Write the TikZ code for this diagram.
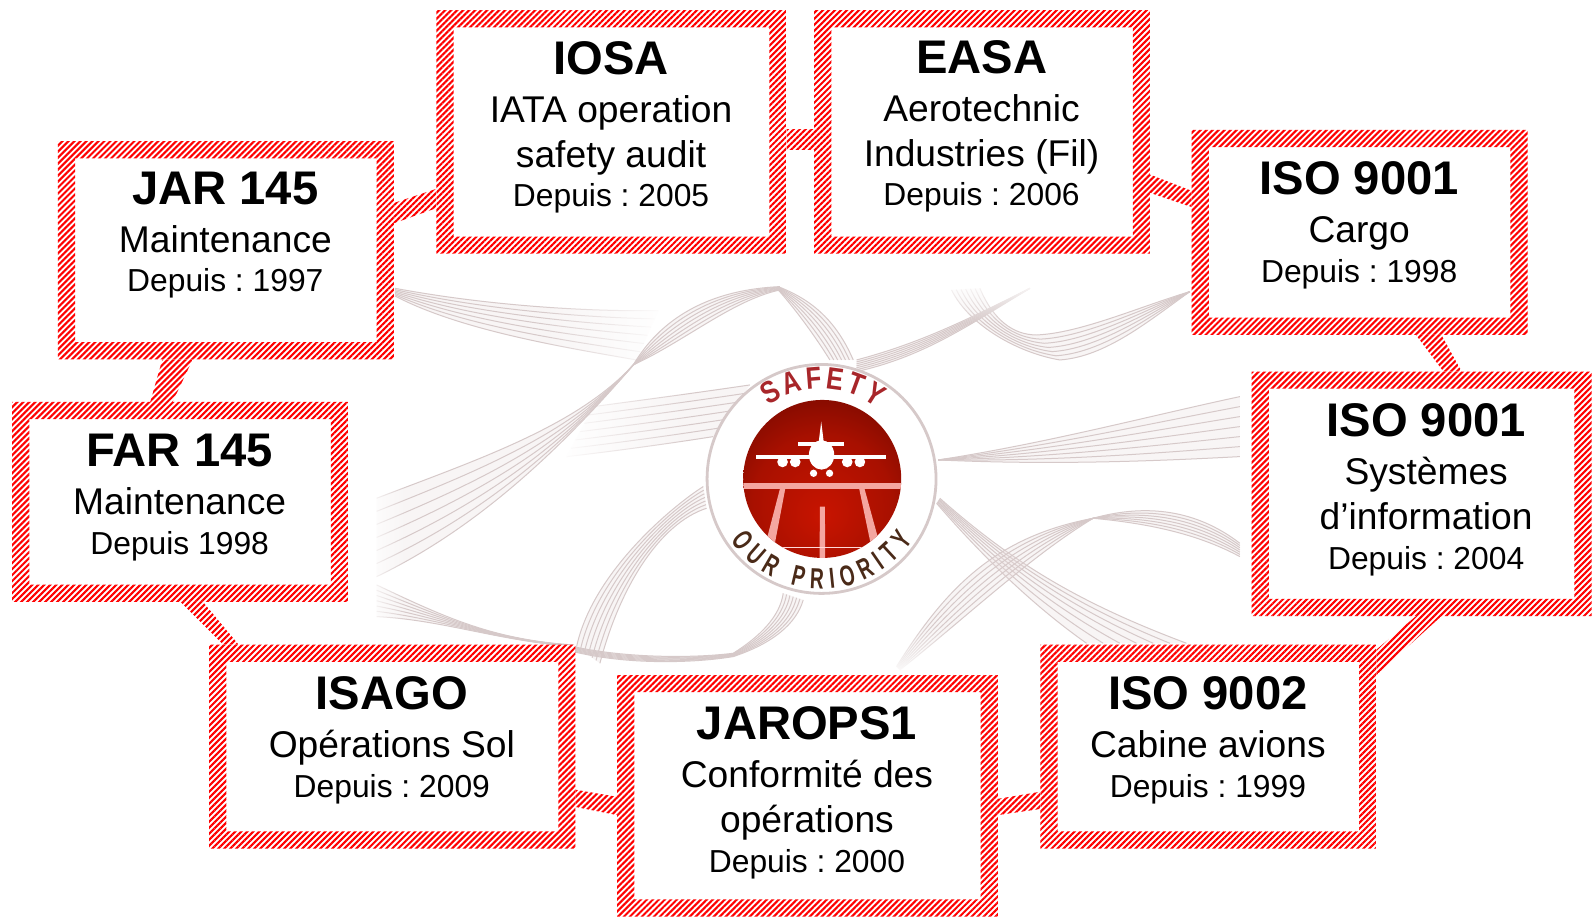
\documentclass[tikz,border=0pt]{standalone}
\usepackage{fontspec}
\setmainfont{Liberation Sans}
\newfontfamily\logofont[FakeStretch=0.82]{Liberation Sans}
\newfontfamily\logofontnarrow[FakeStretch=0.66]{Liberation Sans}
\usetikzlibrary{patterns.meta,calc,decorations.text,fadings}
\definecolor{ribbon}{HTML}{D6C9C9}
\definecolor{ribbonfill}{HTML}{EBDEDE}
\definecolor{certred}{HTML}{FF0000}
\definecolor{discA}{HTML}{C81400}
\definecolor{discB}{HTML}{A81000}
\definecolor{discC}{HTML}{6E0800}
\definecolor{discD}{HTML}{1E0200}
\definecolor{runway}{HTML}{F4A6A0}
\definecolor{safetyred}{HTML}{A8262A}
\definecolor{prioritybrown}{HTML}{4A2A18}
\pgfdeclareradialshading{discshade}{\pgfpoint{0bp}{-12bp}}{color(0bp)=(discA); color(22bp)=(discB); color(40bp)=(discC); color(56bp)=(discD); color(72bp)=(discD)}
\tikzfading[name=fadeR,left color=transparent!100,right color=transparent!0]
\tikzfading[name=fadeL,left color=transparent!0,right color=transparent!100]
\tikzfading[name=fadeT,top color=transparent!0,bottom color=transparent!100]
\tikzfading[name=fadeB,top color=transparent!100,bottom color=transparent!0]
% each line: a strut fixes the distance from the previous baseline
\newcommand{\tightlines}{\lineskiplimit=16000pt \lineskip=0pt \relax}
\newcommand{\ttl}[1]{\fontsize{23.6pt}{24pt}\selectfont\bfseries\rule[-1.5pt]{0pt}{21.5pt}\smash{#1}}
\newcommand{\sbt}[1]{\fontsize{18.6pt}{24pt}\selectfont\mdseries\rule{0pt}{22.5pt}\smash{#1}}
\newcommand{\dep}[1]{\fontsize{15.9pt}{24pt}\selectfont\mdseries\frenchspacing\rule{0pt}{19.8pt}\smash{#1}}
\newcommand{\logotext}{\logofont\bfseries\fontsize{15.5pt}{15.5pt}\selectfont}
\newcommand{\logotextb}{\logofontnarrow\bfseries\fontsize{14.5pt}{14.5pt}\selectfont}
\newcommand{\ribbonseg}[8]{%
  \fill[ribbonfill,opacity=.3] (#1) .. controls (#2) and (#3) .. (#4) -- (#8) .. controls (#7) and (#6) .. (#5) -- cycle;
  \foreach \rt in {0,.1667,.3333,.5,.6667,.8333,1}{%
    \draw[ribbonline] ($(#1)!\rt!(#5)$) .. controls ($(#2)!\rt!(#6)$) and ($(#3)!\rt!(#7)$) .. ($(#4)!\rt!(#8)$);
  }}
\newcommand{\linkband}[4]{\fill[linkband] (#1) -- (#2) -- (#3) -- (#4) -- cycle;}
\tikzset{
  x=0.5076pt,y=-0.5076pt,
  ribbonline/.style={ribbon,line width=.5pt},
  zoomL/.style={shift={(180pt,-135pt)},x=.16667pt,y=-.16667pt},
  zoomR/.style={shift={(440pt,-135pt)},x=.16667pt,y=-.16667pt},
  zoomC/.style={shift={(330pt,-170pt)},x=.16667pt,y=-.16667pt},
  hatchfill/.style={pattern={Lines[angle=45,distance=2.12pt,line width=1.05pt]},pattern color=certred},
  certbox/.style={rectangle,inner sep=0pt,outer sep=0pt,
    path picture={
      \fill[white] (path picture bounding box.south west) rectangle (path picture bounding box.north east);
      \fill[hatchfill,even odd rule] (path picture bounding box.south west) rectangle (path picture bounding box.north east)
        ($(path picture bounding box.south west)+(8.6pt,8.6pt)$) rectangle ($(path picture bounding box.north east)+(-8.6pt,-8.6pt)$);
    }},
  certtext/.style={anchor=north,inner sep=0pt,outer sep=0pt,align=center,text=black,font=\tightlines},
  linkband/.style={hatchfill,preaction={fill=white}}
}
\begin{document}
\begin{tikzpicture}
\useasboundingbox (0,0) rectangle (1568.4,903.4);
\fill[white] (0,0) rectangle (1568.4,903.4);
% ---- ribbons with ends that fade out
\begin{scope}[zoomL]
\ribbonseg{105,55}{400,110}{700,125}{895,122}{105,78}{300,180}{600,230}{830,270}
\ribbonseg{1170,345}{1000,370}{850,390}{700,410}{1060,500}{900,525}{750,545}{620,560}
\end{scope}
\fill[white,path fading=fadeR] (530,278) rectangle (655,368);
\fill[white,path fading=fadeL] (550,375) rectangle (680,465);
\begin{scope}[zoomL]
\ribbonseg{50,685}{350,570}{650,470}{820,285}{50,920}{300,800}{550,600}{820,285}
\ribbonseg{820,285}{900,150}{1040,60}{1260,50}{820,285}{980,210}{1120,90}{1260,60}
\ribbonseg{1255,50}{1330,80}{1420,130}{1480,270}{1255,60}{1300,110}{1360,190}{1410,270}
\ribbonseg{1030,650}{950,700}{700,900}{650,1130}{1040,715}{900,760}{780,950}{720,1180}
\ribbonseg{50,945}{250,1040}{400,1110}{640,1125}{50,1040}{250,1050}{400,1110}{640,1130}
\ribbonseg{640,1130}{800,1165}{1000,1165}{1120,1150}{640,1145}{800,1185}{1000,1180}{1120,1160}
\ribbonseg{1120,1150}{1200,1100}{1260,1040}{1270,970}{1120,1160}{1240,1120}{1310,1060}{1330,990}
\end{scope}
\begin{scope}[zoomR]
\ribbonseg{215,60}{270,170}{420,250}{540,270}{300,55}{340,150}{400,195}{470,195}
\ribbonseg{540,270}{680,260}{810,150}{930,65}{470,195}{600,190}{780,110}{930,65}
\ribbonseg{-70,270}{120,220}{260,150}{450,55}{-70,305}{130,260}{260,170}{450,55}
\ribbonseg{175,570}{500,520}{800,440}{1080,380}{175,570}{500,585}{800,575}{1080,560}
\ribbonseg{180,685}{400,880}{600,1000}{920,1120}{170,700}{300,850}{450,1000}{620,1120}
\ribbonseg{50,1190}{200,950}{350,800}{640,745}{60,1200}{250,1050}{450,860}{640,745}
\ribbonseg{640,745}{800,700}{950,720}{1080,820}{640,745}{800,760}{950,790}{1080,860}
\end{scope}
\fill[white,path fading=fadeL] (360,480) rectangle (400,645);
\fill[white,path fading=fadeT] (925,274) rectangle (1030,318);
\fill[white,path fading=fadeB] (875,615) rectangle (945,665);
% ---- logo
\begin{scope}[zoomC]
\node[circle,inner sep=0pt,minimum size=114.5pt,fill=white,draw=ribbon,line width=1.4pt] (logo) at (485,417) {};
\shade[shading=discshade] (487,417) circle [radius=237];
\begin{scope}
\clip (487,417) circle [radius=237];
\fill[runway] (245,430) rectangle (730,447);
\fill[runway] (360,447) -- (376,447) -- (345,610) -- (320,600) -- cycle;
\fill[runway] (598,447) -- (614,447) -- (656,600) -- (632,610) -- cycle;
\fill[runway] (480,500) -- (495,500) -- (496,670) -- (479,670) -- cycle;
\draw[white!85!red,line width=.4pt] (180,622) -- (800,622);
\end{scope}
\fill[white] (476,310) -- (484,245) -- (492,310) -- cycle;
\fill[white] (415,306) -- (552,306) -- (552,318) -- (415,318) -- cycle;
\fill[white] (485,345) ellipse [x radius=38,y radius=44];
\fill[white] (288,346) -- (678,346) -- (678,356) -- (288,356) -- cycle;
\foreach \ex in {368,406,562,600}{\fill[white] (\ex,366) circle [radius=16];}
\foreach \ex in {461,509}{\fill[white] (\ex,400) circle [radius=11];}
\path[decorate,decoration={text along path,text align=fit to path,text={|\logotext\color{safetyred}|SAFETY}}]
  ([shift={(-126:270)}]485,417) arc [start angle=-126,end angle=-52,radius=270];
\path[decorate,decoration={text along path,text align=fit to path,text={|\logotextb\color{prioritybrown}|OUR PRIORITY}}]
  ([shift={(146:330)}]485,417) arc [start angle=146,end angle=34,radius=330];
\end{scope}
% ---- certification boxes
\node[certbox,minimum width=175.1pt,minimum height=121.8pt] (iosa) at (602.5,130) {};
\node[certbox,minimum width=168pt,minimum height=121.8pt] (easa) at (967.5,130) {};
\node[certbox,minimum width=168pt,minimum height=109.1pt] (jar) at (222.5,246.5) {};
\node[certbox,minimum width=168pt,minimum height=102.5pt] (cargo) at (1339.5,229) {};
\node[certbox,minimum width=170pt,minimum height=122.3pt] (si) at (1400.5,486.5) {};
\node[certbox,minimum width=168pt,minimum height=100pt] (far) at (177.5,494.5) {};
\node[certbox,minimum width=183.2pt,minimum height=102pt] (isago) at (386.5,735.5) {};
\node[certbox,minimum width=190.3pt,minimum height=120.8pt] (jarops) at (795.5,784) {};
\node[certbox,minimum width=168pt,minimum height=102pt] (iso9002) at (1190.5,735.5) {};
% ---- connecting bands
\linkband{jar.east |- 0,200}{jar.east |- 0,220}{iosa.west |- 0,205}{iosa.west |- 0,186}
\linkband{iosa.east |- 0,128}{iosa.east |- 0,147}{easa.west |- 0,147}{easa.west |- 0,128}
\linkband{easa.east |- 0,172}{easa.east |- 0,190}{cargo.west |- 0,204}{cargo.west |- 0,188}
\linkband{1395,0 |- cargo.south}{1420,0 |- cargo.south}{1440,0 |- si.north}{1422,0 |- si.north}
\linkband{1395,0 |- si.south}{1420,0 |- si.south}{iso9002.east |- 0,665}{iso9002.east |- 0,640}
\linkband{jarops.east |- 0,787}{jarops.east |- 0,803}{iso9002.west |- 0,797}{iso9002.west |- 0,780}
\linkband{isago.east |- 0,778}{isago.east |- 0,795}{jarops.west |- 0,803}{jarops.west |- 0,785}
\linkband{178,0 |- far.south}{200,0 |- far.south}{235,0 |- isago.north}{220,0 |- isago.north}
\linkband{160,0 |- jar.south}{190,0 |- jar.south}{170,0 |- far.north}{148,0 |- far.north}
% ---- labels
\node[certtext] (iosat) at (602,33.6) {\ttl{IOSA}\\\sbt{IATA operation}\\\sbt{safety audit}\\\dep{Depuis : 2005}};
\node[certtext] (easat) at (967,32.6) {\ttl{EASA}\\\sbt{Aerotechnic}\\\sbt{Industries (Fil)}\\\dep{Depuis : 2006}};
\node[certtext] (jart) at (222,161.6) {\ttl{JAR 145}\\\sbt{Maintenance}\\\dep{Depuis : 1997}};
\node[certtext] (cargot) at (1339,152.6) {\ttl{ISO 9001}\\\sbt{Cargo}\\\dep{Depuis : 1998}};
\node[certtext] (sit) at (1405,390.6) {\ttl{ISO 9001}\\\sbt{Systèmes}\\\sbt{d’information}\\\dep{Depuis : 2004}};
\node[certtext] (fart) at (177,420.6) {\ttl{FAR 145}\\\sbt{Maintenance}\\\dep{Depuis 1998}};
\node[certtext] (isagot) at (386,659.6) {\ttl{ISAGO}\\\sbt{Opérations Sol}\\\dep{Depuis : 2009}};
\node[certtext] (jaropst) at (795,689.6) {\ttl{JAROPS1}\\\sbt{Conformité des}\\\sbt{opérations}\\\dep{Depuis : 2000}};
\node[certtext] (iso9002t) at (1190,659.6) {\ttl{ISO 9002}\\\sbt{Cabine avions}\\\dep{Depuis : 1999}};
\end{tikzpicture}
\end{document}
